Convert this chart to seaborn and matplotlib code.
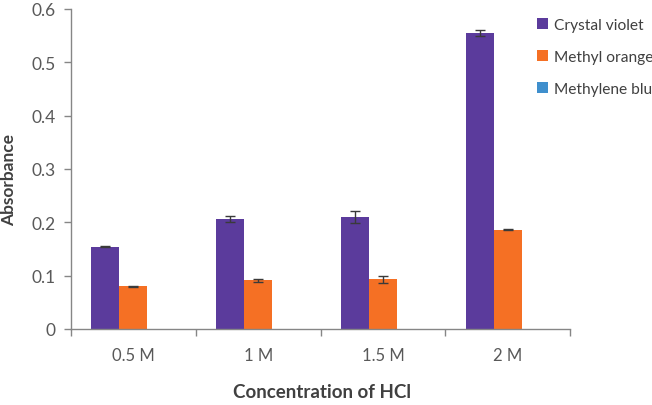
import matplotlib
matplotlib.use("Agg")
import matplotlib.pyplot as plt
import seaborn as sns
import pandas as pd
import numpy as np

categories = ["0.5 M", "1 M", "1.5 M", "2 M"]
dyes = ["Crystal violet", "Methyl orange", "Methylene blue"]
crystal_violet = [0.154, 0.206, 0.210, 0.555]
crystal_violet_err = [0.001, 0.005, 0.011, 0.005]
methyl_orange = [0.080, 0.091, 0.093, 0.186]
methyl_orange_err = [0.001, 0.002, 0.006, 0.001]
methylene_blue = [0.0, 0.0, 0.0, 0.0]
methylene_blue_err = [0.0, 0.0, 0.0, 0.0]
y_ticks = [0, 0.1, 0.2, 0.3, 0.4, 0.5, 0.6]
y_tick_labels = ["0", "0.1", "0.2", "0.3", "0.4", "0.5", "0.6"]

colors = ["#5b3b9c", "#f57024", "#3f8fcd"]

values = [crystal_violet, methyl_orange, methylene_blue]
errors = [crystal_violet_err, methyl_orange_err, methylene_blue_err]
rows = []
for d, vals, errs in zip(dyes, values, errors):
    for c, v, e in zip(categories, vals, errs):
        rows.append({"conc": c, "absorbance": v, "err": e, "dye": d})
df = pd.DataFrame(rows)

sns.set_theme(style="white")
plt.rcParams["font.family"] = ["Lato", "DejaVu Sans"]

fig = plt.figure(figsize=(6.52, 4.06), dpi=100)
ax = fig.add_axes([71 / 652, 76 / 406, (570 - 71) / 652, (330 - 10) / 406])

sns.barplot(data=df, x="conc", y="absorbance", hue="dye", order=categories,
            hue_order=dyes, palette=colors, width=0.672, errorbar=None,
            saturation=1, linewidth=0, ax=ax)

for cont, d in zip(ax.containers, dyes):
    sub = df[df["dye"] == d].set_index("conc").loc[categories]
    xs = [p.get_x() + p.get_width() / 2 for p in cont.patches]
    if sub["err"].sum() > 0:
        ax.errorbar(xs, sub["absorbance"].values, yerr=sub["err"].values,
                    fmt="none", ecolor="#3a3a3a", elinewidth=1.0,
                    capsize=3.6, capthick=1.0, zorder=5)

ax.set_ylim(0, 0.6)
ax.set_xlim(-0.5, 3.5)
ax.set_yticks(y_ticks)
ax.set_yticklabels(y_tick_labels)
ax.tick_params(axis="y", which="major", length=5, width=1, color="#868686",
               labelsize=12.5, labelcolor="#595959", pad=6, left=True, direction="out")
ax.tick_params(axis="x", which="major", length=0, labelsize=12,
               labelcolor="#595959", pad=13)
ax.set_xticks(np.arange(-0.5, 4.0, 1.0), minor=True)
ax.tick_params(axis="x", which="minor", length=5, width=1, color="#868686",
               bottom=True, direction="out")

for s in ["top", "right"]:
    ax.spines[s].set_visible(False)
for s in ["left", "bottom"]:
    ax.spines[s].set_color("#868686")
    ax.spines[s].set_linewidth(1)

ax.set_xlabel("Concentration of HCl", fontsize=13.5, fontweight="bold",
              color="#404040")
ax.set_ylabel("Absorbance", fontsize=12.5, fontweight="bold", color="#404040")
ax.xaxis.set_label_coords((322 - 71) / (570 - 71), -(393 - 330) / (330 - 10),
                          transform=ax.transAxes)
ax.xaxis.label.set_va("center")
ax.yaxis.set_label_coords(-(71 - 9) / (570 - 71), (330 - 180) / (330 - 10),
                          transform=ax.transAxes)
ax.yaxis.label.set_va("center")

handles, labels = ax.get_legend_handles_labels()
ax.legend(handles, labels, loc="upper left", bbox_to_anchor=(531 / 652, 1 - 13 / 406),
          bbox_transform=fig.transFigure, frameon=False, fontsize=11.2,
          handlelength=0.7, handleheight=0.7, handletextpad=0.35,
          labelspacing=1.15, labelcolor="#404040", borderaxespad=0)

fig.savefig("out.png", dpi=100)
